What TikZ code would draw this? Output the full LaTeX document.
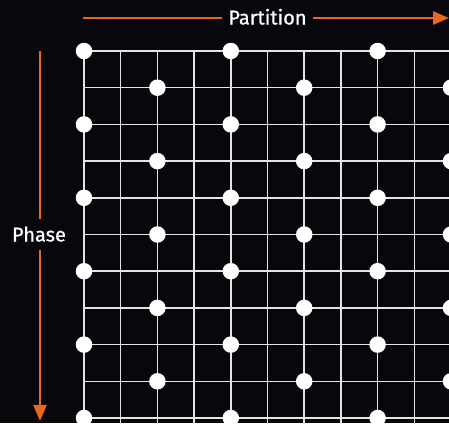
\documentclass[tikz,border=0pt]{standalone}
\usepackage{fontspec}
\setmainfont{Fira Sans}
\newfontfamily\lblfont{Fira Sans}[FakeBold=0.7]
\usetikzlibrary{arrows.meta}
\definecolor{bg}{RGB}{8,7,12}
\definecolor{org}{RGB}{232,104,32}
\definecolor{gridc}{RGB}{228,228,228}
\tikzset{
  gridline/.style={draw=gridc, line width=1.5pt},
  border/.style={draw=gridc, line width=2.2pt},
  dot/.style={circle, fill=white, inner sep=0pt, minimum size=16.5pt},
  axis/.style={draw=org, line width=2.6pt},
  axislabel/.style={text=white, font=\lblfont\fontsize{20}{20}\selectfont, inner sep=0pt},
  tip/.style={-{Triangle[length=16pt,width=13pt]}}
}
\begin{document}
\begin{tikzpicture}[x=1pt,y=-1pt]
\fill[bg] (0,0) rectangle (449,423);
\useasboundingbox (0,0) rectangle (449,423);
\begin{scope}
\clip (0,0) rectangle (449,423);
% inner grid lines
\foreach \i in {1,...,10} {
  \draw[gridline] ({84+36.7*\i},51) -- ({84+36.7*\i},430);
}
\foreach \j in {1,...,9} {
  \draw[gridline] (83,{51+36.7*\j}) -- (460,{51+36.7*\j});
}
% border lines
\draw[border] (84,51) -- (84,430);
\draw[border] (84,51) -- (460,51);
\draw[border] (84,418) -- (460,418);
% dots
\foreach \j in {0,2,...,10} {
  \foreach \c in {0,4,8} {
    \node[dot] (d-\c-\j) at ({84+36.7*\c},{51+36.7*\j}) {};
  }
}
\foreach \j in {1,3,...,9} {
  \foreach \c in {2,6,10} {
    \node[dot] (d-\c-\j) at ({84+36.7*\c},{51+36.7*\j}) {};
  }
}
\end{scope}
% Partition axis
\coordinate (ps) at (83,18);
\coordinate (pe) at (449,18);
\coordinate (pa) at (222,18);
\coordinate (pb) at (313,18);
\node[axislabel, anchor=base] (part) at (267.5,24.5) {Partition};
\draw[axis] (ps) -- (pa);
\draw[axis, tip] (pb) -- (pe);
% Phase axis
\coordinate (hs) at (40,51);
\coordinate (he) at (40,421);
\coordinate (ha) at (40,219);
\coordinate (hb) at (40,250);
\node[axislabel, anchor=base] (phase) at (39,241.5) {Phase};
\draw[axis] (hs) -- (ha);
\draw[axis, tip] (hb) -- (he);
\end{tikzpicture}
\end{document}
